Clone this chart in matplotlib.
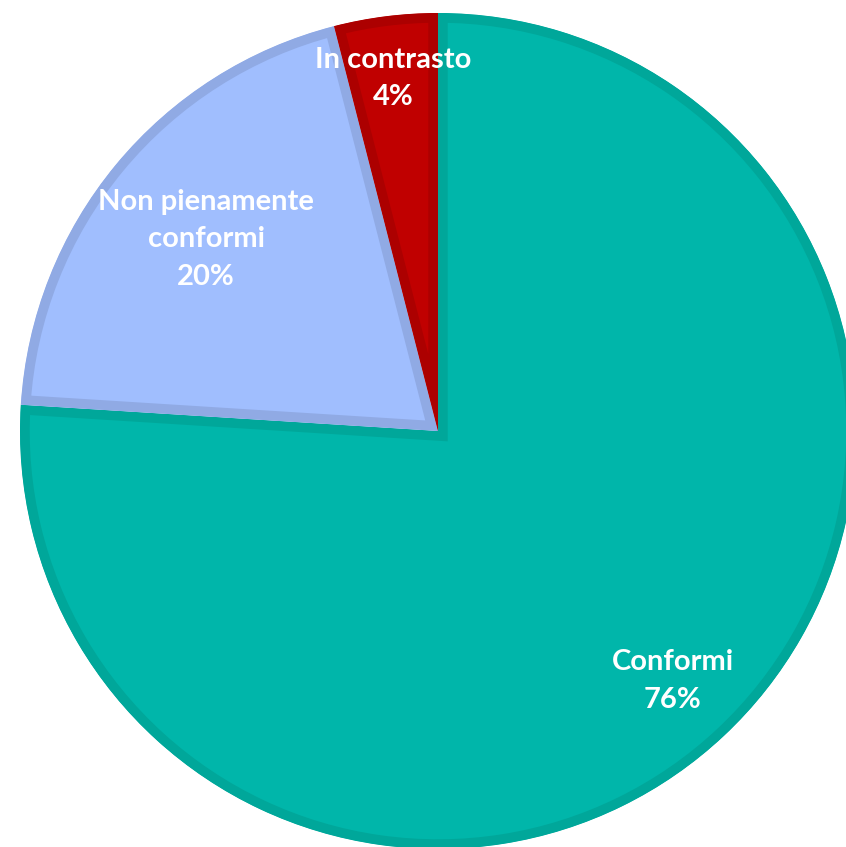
import numpy as np
import matplotlib
matplotlib.use('Agg')
from matplotlib import pyplot as plt

# dati del grafico
labels = ['Conformi', 'Non pienamente\nconformi', 'In contrasto']
values = [76, 20, 4]
colors = ['#00B6AA', '#A0BEFE', '#C00000']
edges = ['#00A79A', '#90AAE4', '#AC0000']
label_dist = [0.82, 0.72, 0.85]

fig = plt.figure(figsize=(8.46, 8.47), dpi=100)
ax = fig.add_axes([20 / 846, -2 / 847, 836 / 846, 836 / 847])

wedges, _ = ax.pie(values, colors=colors, startangle=90, counterclock=False,
                   radius=1, wedgeprops=dict(edgecolor='none'))

# bordo interno piu' scuro, ritagliato dentro ogni fetta
for w, ec in zip(wedges, edges):
    w.set_edgecolor(ec)
    w.set_linewidth(14)
    w.set_clip_on(True)
    w.set_clip_path(w.get_path(), w.get_transform())

tot = sum(values)
for w, lab, v, d in zip(wedges, labels, values, label_dist):
    ang = np.deg2rad((w.theta1 + w.theta2) / 2)
    ax.text(d * np.cos(ang), d * np.sin(ang), '%s\n%d%%' % (lab, round(100 * v / tot)),
            ha='center', va='center', color='white', fontsize=21,
            fontweight='bold', family='Lato', linespacing=1.55)

ax.set_xlim(-1, 1)
ax.set_ylim(-1, 1)
ax.set_aspect('equal')
ax.axis('off')

fig.savefig('out.png', dpi=100)
